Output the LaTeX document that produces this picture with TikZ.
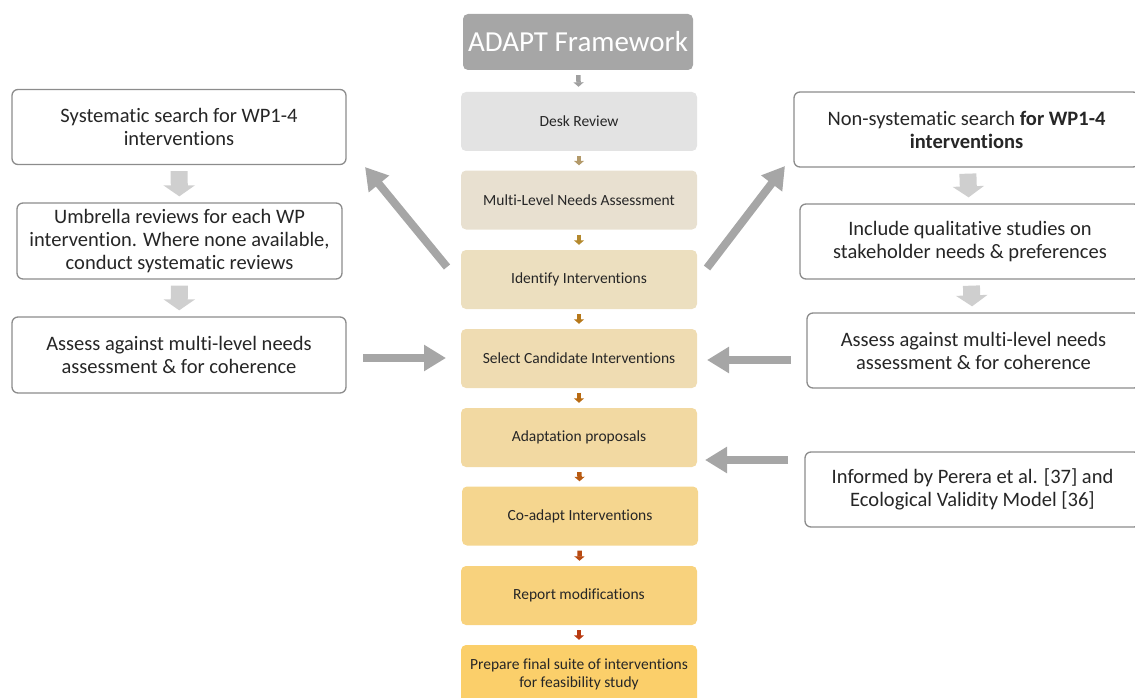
\documentclass[tikz,border=0pt]{standalone}
\usepackage{fontspec}
\setmainfont[Ligatures=NoCommon]{Carlito}
\usetikzlibrary{arrows.meta,calc}
\definecolor{titlegray}{HTML}{A6A6A6}
\definecolor{c1}{HTML}{E3E3E3}
\definecolor{c2}{HTML}{E8E0D0}
\definecolor{c3}{HTML}{ECDFBF}
\definecolor{c4}{HTML}{EFDCB2}
\definecolor{c5}{HTML}{F2D9A2}
\definecolor{c6}{HTML}{F5D68F}
\definecolor{c7}{HTML}{F8D27D}
\definecolor{c8}{HTML}{FBCF6A}
\definecolor{a0}{HTML}{A0A0A0}
\definecolor{a1}{HTML}{B39A6A}
\definecolor{a2}{HTML}{B4892E}
\definecolor{a3}{HTML}{B6781A}
\definecolor{a4}{HTML}{B86A12}
\definecolor{a5}{HTML}{B85A12}
\definecolor{a6}{HTML}{B84A12}
\definecolor{a7}{HTML}{B83A12}
\definecolor{sideborder}{HTML}{8C8C8C}
\definecolor{lightarrow}{HTML}{CFCFCF}
\definecolor{bigarrow}{HTML}{A6A6A6}
\tikzset{
  cbox/.style={rounded corners=5pt, minimum width=236pt, minimum height=59pt,
    font=\fontsize{15.5}{18}\selectfont, text=black!85, align=center, inner sep=0pt},
  sbox/.style={draw=sideborder, line width=1.3pt, fill=white, rounded corners=6pt,
    minimum height=75pt, font=\fontsize{20.5}{23}\selectfont, text=black!85,
    align=center, inner sep=0pt},
  smallarr/.style={line width=4.5pt, -{Triangle[length=4.5pt,width=10pt]},
    shorten <=5pt, shorten >=5pt},
  lightarr/.style={draw=lightarrow, line width=17pt, -{Triangle[length=11pt,width=31pt]},
    shorten <=6pt, shorten >=6pt},
  bigarr/.style={draw=bigarrow, line width=8pt, -{Triangle[length=22pt,width=25pt]}},
}
\begin{document}
\begin{tikzpicture}[x=1pt,y=-1pt]
\useasboundingbox (0,0) rectangle (1135,698);
% centre column
\node[cbox, fill=titlegray, minimum width=230pt, minimum height=56pt, text=white,
  font=\fontsize{29}{32}\selectfont] (title) at (578,42) {ADAPT Framework};
\node[cbox, fill=c1] (desk) at (579,121.5) {Desk Review};
\node[cbox, fill=c2] (mlna) at (579,200) {Multi-Level Needs Assessment};
\node[cbox, fill=c3] (ident) at (579,279.5) {Identify Interventions};
\node[cbox, fill=c4] (select) at (579,358.5) {Select Candidate Interventions};
\node[cbox, fill=c5] (adapt) at (579,437.5) {Adaptation proposals};
\node[cbox, fill=c6] (coad) at (580,516) {Co-adapt Interventions};
\node[cbox, fill=c7] (report) at (579,595.5) {Report modifications};
\node[cbox, fill=c8] (final) at (579,674.5) {Prepare final suite of interventions\\for feasibility study};
\draw[smallarr, a0] (title) -- (desk);
\draw[smallarr, a1] (desk) -- (mlna);
\draw[smallarr, a2] (mlna) -- (ident);
\draw[smallarr, a3] (ident) -- (select);
\draw[smallarr, a4] (select) -- (adapt);
\draw[smallarr, a5] (adapt) -- (coad);
\draw[smallarr, a6] (coad) -- (report);
\draw[smallarr, a7] (report) -- (final);
% left column
\node[sbox, minimum width=334pt] (lsys) at (179,127) {Systematic search for WP1-4\\interventions};
\node[sbox, minimum width=325pt, minimum height=76pt] (lumb) at (179.5,241) {Umbrella reviews for each WP\\intervention. Where none available,\\conduct systematic reviews};
\node[sbox, minimum width=334pt, minimum height=76pt] (lass) at (179,355) {Assess against multi-level needs\\assessment \& for coherence};
\draw[lightarr] (lsys) -- (lumb);
\draw[lightarr] (lumb) -- (lass);
% right column
\node[sbox, minimum width=345pt] (rsys) at (966.5,129.5) {Non-systematic search \textbf{for WP1-4}\\\textbf{interventions}};
\node[sbox, minimum width=340pt] (rinc) at (970,241.5) {Include qualitative studies on\\stakeholder needs \& preferences};
\node[sbox, minimum width=333pt] (rass) at (973.5,350.5) {Assess against multi-level needs\\assessment \& for coherence};
\node[sbox, minimum width=335pt] (rinf) at (972.5,489.5) {Informed by Perera et al. [37] and\\Ecological Validity Model [36]};
\draw[lightarr] (rsys) -- (rinc);
\draw[lightarr] (rinc) -- (rass);
% big arrows
\coordinate (d1s) at (447,267);
\coordinate (d1e) at (365,167);
\coordinate (d2s) at (707,268);
\coordinate (d2e) at (785,166);
\coordinate (h1a) at (363,358);
\coordinate (h1b) at (446,358);
\coordinate (h2a) at (791,360);
\coordinate (h2b) at (707,360);
\coordinate (h3a) at (788,460);
\coordinate (h3b) at (705,460);
\draw[bigarr] (d1s) -- (d1e);
\draw[bigarr] (d2s) -- (d2e);
\draw[bigarr] (h1a) -- (h1b);
\draw[bigarr] (h2a) -- (h2b);
\draw[bigarr] (h3a) -- (h3b);
\end{tikzpicture}
\end{document}
